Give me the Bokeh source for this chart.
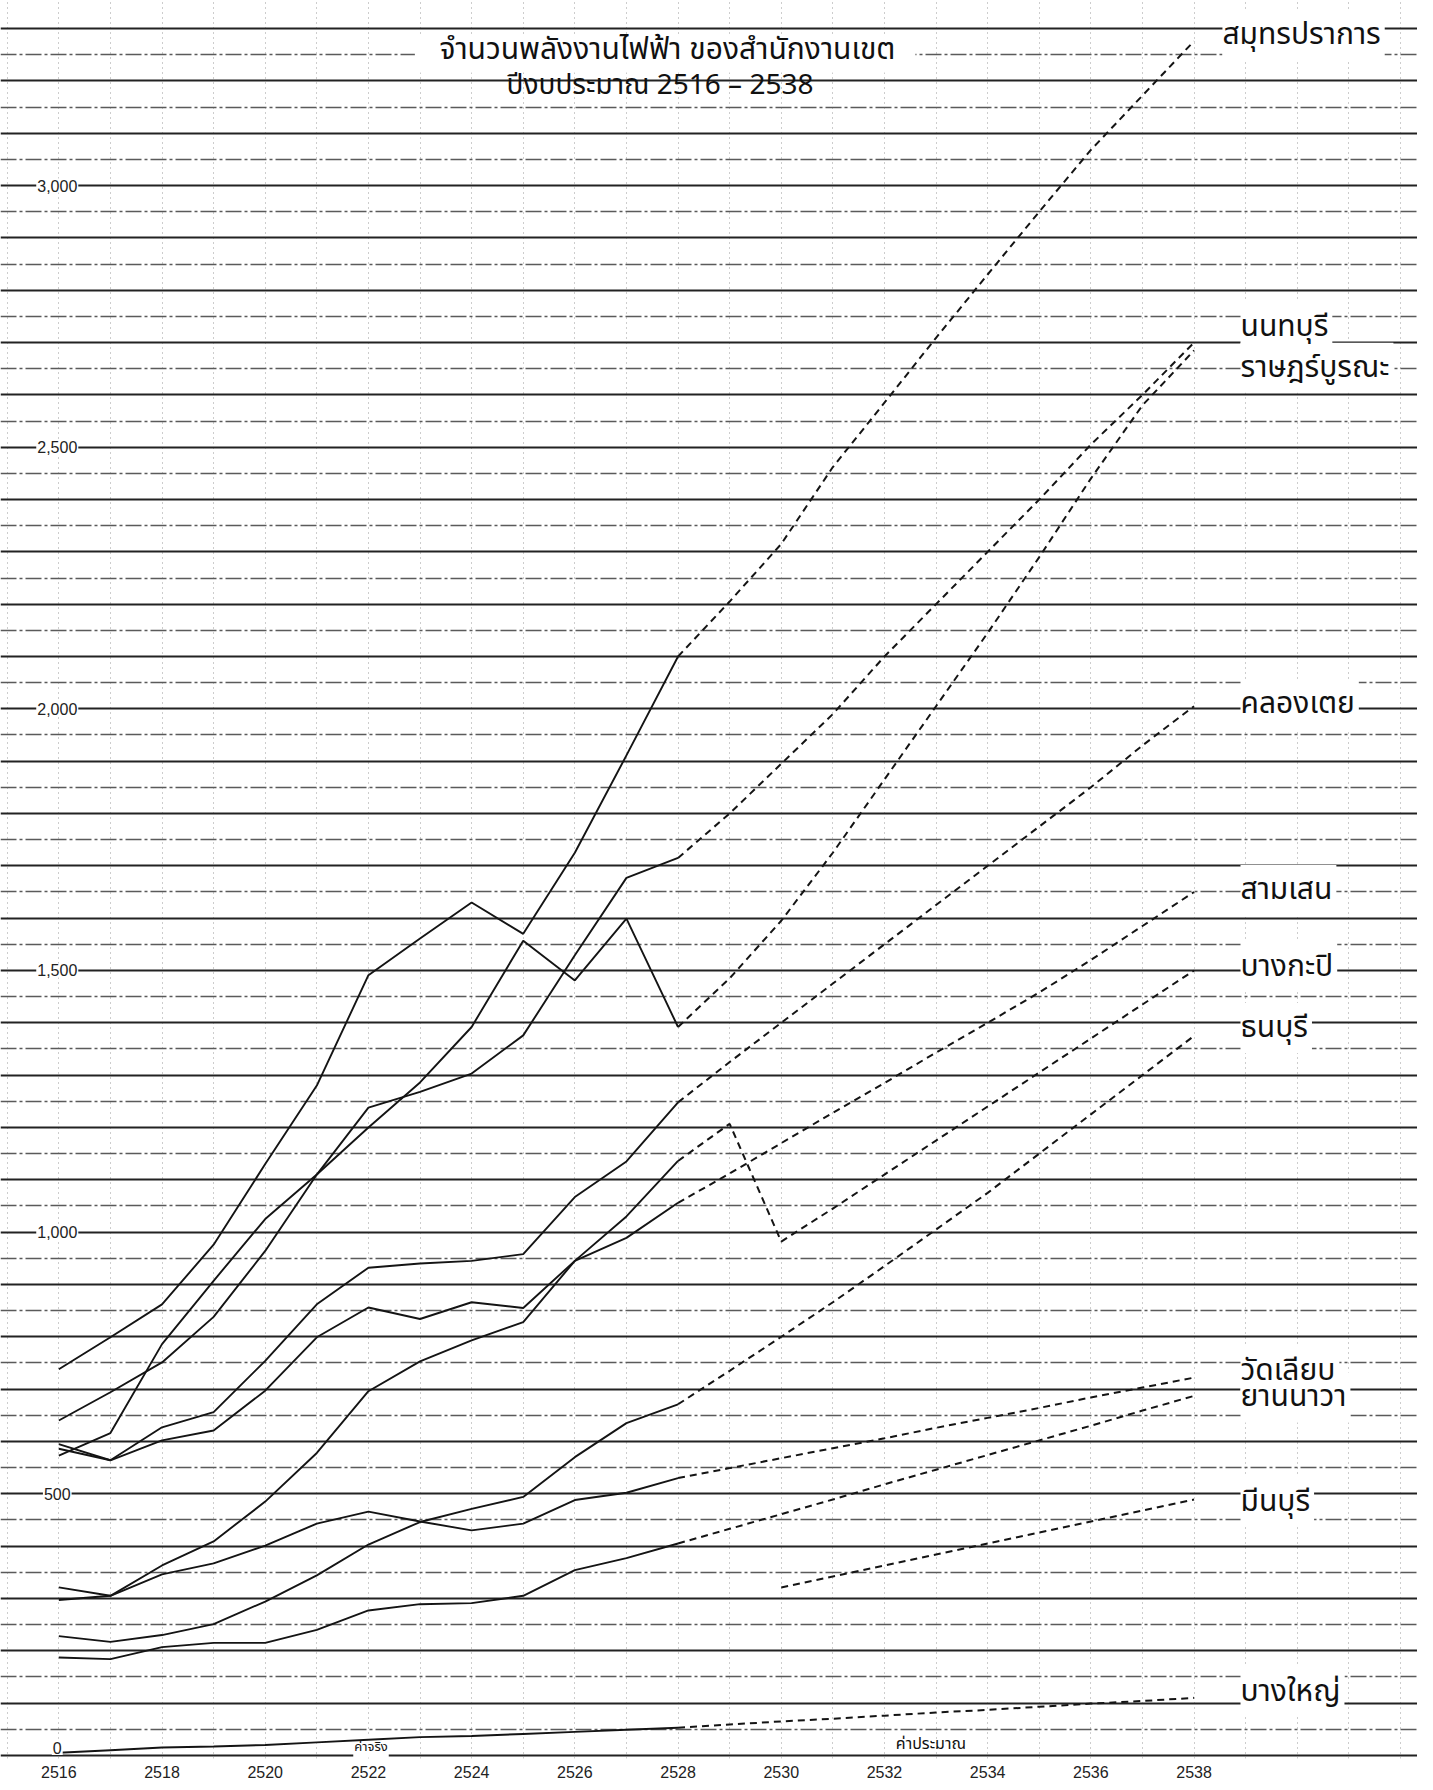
from bokeh.plotting import figure
from bokeh.models import Range1d, FixedTicker, Grid
from bokeh.core.properties import value
from bokeh.embed import file_html
from bokeh.resources import INLINE

# ---------------- data ----------------
years_actual = [2516, 2517, 2518, 2519, 2520, 2521, 2522, 2523, 2524, 2525, 2526, 2527, 2528]
years_proj = [2528, 2529, 2530, 2531, 2532, 2533, 2534, 2535, 2536, 2537, 2538]
years_proj_minburi = [2530, 2531, 2532, 2533, 2534, 2535, 2536, 2537, 2538]

samutprakan_actual = [738, 799, 862, 976, 1130, 1280, 1491, 1561, 1630, 1570, 1725, 1911, 2100]
samutprakan_proj = [2100, 2205, 2315, 2462, 2585, 2709, 2830, 2950, 3068, 3172, 3276]

nonthaburi_actual = [640, 694, 751, 838, 964, 1110, 1238, 1268, 1303, 1376, 1529, 1677, 1715]
nonthaburi_proj = [1715, 1800, 1895, 1990, 2100, 2200, 2300, 2400, 2505, 2600, 2700]

ratburana_actual = [573, 616, 786, 907, 1025, 1110, 1200, 1286, 1392, 1557, 1481, 1599, 1392]
ratburana_proj = [1392, 1485, 1595, 1725, 1865, 2005, 2145, 2290, 2440, 2580, 2685]

khlongtoei_actual = [595, 564, 627, 656, 754, 862, 932, 940, 945, 958, 1067, 1135, 1248]
khlongtoei_proj = [1248, 1325, 1400, 1475, 1550, 1625, 1700, 1775, 1850, 1930, 2005]

samsen_actual = [586, 564, 602, 621, 697, 799, 856, 834, 866, 855, 945, 989, 1056]
samsen_proj = [1056, 1112, 1170, 1228, 1285, 1343, 1400, 1458, 1520, 1585, 1650]

bangkapi_actual = [297, 305, 363, 409, 485, 578, 696, 753, 793, 828, 945, 1030, 1136]
bangkapi_proj = [1136, 1207, 982, 1045, 1110, 1175, 1240, 1305, 1370, 1435, 1500]

thonburi_actual = [228, 217, 230, 251, 294, 344, 403, 446, 471, 494, 570, 635, 671]
thonburi_proj = [671, 735, 800, 866, 935, 1005, 1075, 1150, 1225, 1300, 1375]

watliap_actual = [321, 305, 346, 367, 401, 443, 466, 447, 430, 443, 488, 502, 530]
watliap_proj = [530, 549, 568, 587, 606, 626, 645, 664, 684, 703, 722]

yannawa_actual = [187, 184, 207, 215, 215, 240, 277, 289, 291, 305, 354, 377, 405]
yannawa_proj = [405, 433, 461, 489, 518, 546, 574, 602, 630, 659, 687]

minburi_proj = [321, 342, 363, 384, 405, 426, 447, 468, 489]

bangyai_actual = [5, 10, 15, 17, 20, 25, 30, 35, 37, 41, 45, 49, 53]
bangyai_proj = [53, 59, 65, 70, 76, 82, 87, 93, 99, 104, 110]

series_names = ["สมุทรปราการ", "นนทบุรี", "ราษฎร์บูรณะ", "คลองเตย", "สามเสน", "บางกะปิ",
                "ธนบุรี", "วัดเลียบ", "ยานนาวา", "มีนบุรี", "บางใหญ่"]

x_tick_years = [2516, 2518, 2520, 2522, 2524, 2526, 2528, 2530, 2532, 2534, 2536, 2538]
y_tick_values = [0, 500, 1000, 1500, 2000, 2500, 3000]
y_tick_labels = ["0", "500", "1,000", "1,500", "2,000", "2,500", "3,000"]

title_line1 = "จำนวนพลังงานไฟฟ้า  ของสำนักงานเขต"
title_line2 = "ปีงบประมาณ 2516 – 2538"
note_actual = "ค่าจริง"
note_estimate = "ค่าประมาณ"

# ---------------- placement (layout only) ----------------
label_x = [2538.55, 2538.9, 2538.9, 2538.9, 2538.9, 2538.9,
           2538.9, 2538.9, 2538.9, 2538.9, 2538.9]
label_y = [3287, 2730, 2652, 2009, 1654, 1507, 1390, 735, 684, 485, 122]
y_label_pos = [14, 500, 1000, 1500, 2000, 2500, 3000]

# ---------------- figure ----------------
THAI = value("Noto Sans Thai")
INK = "#141414"
p = figure(frame_width=1417, frame_height=1758, output_backend="svg", toolbar_location=None,
           x_range=Range1d(2514.87, 2542.33), y_range=Range1d(-5.9, 3353.6),
           y_axis_location=None, min_border_left=0, min_border_right=0,
           min_border_top=0, min_border_bottom=0)
p.outline_line_color = None
p.background_fill_color = "white"
p.border_fill_color = "white"
p.grid.visible = False

# grid lines: solid every 100, broken every 50 in between, dotted each year
hundred_lines = list(range(0, 3301, 100))
fifty_lines = list(range(50, 3301, 100))
year_lines = list(range(2515, 2543))
p.add_layout(Grid(dimension=0, ticker=FixedTicker(ticks=year_lines),
                  grid_line_color="#9a9a9a", grid_line_width=1, grid_line_dash="1 4"))
p.add_layout(Grid(dimension=1, ticker=FixedTicker(ticks=fifty_lines),
                  grid_line_color="#5a5a5a", grid_line_width=1.5, grid_line_dash="16 3 3 3"))
p.add_layout(Grid(dimension=1, ticker=FixedTicker(ticks=hundred_lines),
                  grid_line_color="#222222", grid_line_width=2.2))

# x axis
p.xaxis.ticker = FixedTicker(ticks=x_tick_years)
p.xaxis.axis_line_color = None
p.xaxis.major_tick_line_color = None
p.xaxis.minor_tick_line_color = None
p.xaxis.major_label_standoff = 1
p.xaxis.major_label_text_font_size = "16px"
p.xaxis.major_label_text_font = "Liberation Sans"
p.xaxis.major_label_text_color = "#222222"

# notes: actual / estimated (drawn before the series so the lines stay on top)
p.text(x=[2522.05], y=[-4], text=[note_actual], text_align="center",
       text_baseline="bottom", text_font=THAI, text_font_size="13px",
       text_color="#111111", background_fill_color="white", padding=1)
p.text(x=[2532.9], y=[-1], text=[note_estimate], text_align="center",
       text_baseline="bottom", text_font=THAI, text_font_size="16px",
       text_color="#111111")

# series
actual_sets = [samutprakan_actual, nonthaburi_actual, ratburana_actual, khlongtoei_actual,
               samsen_actual, bangkapi_actual, thonburi_actual, watliap_actual,
               yannawa_actual, bangyai_actual]
proj_sets = [samutprakan_proj, nonthaburi_proj, ratburana_proj, khlongtoei_proj,
             samsen_proj, bangkapi_proj, thonburi_proj, watliap_proj,
             yannawa_proj, bangyai_proj]
for vals in actual_sets:
    p.line(years_actual, vals, line_color=INK, line_width=1.9)
for vals in proj_sets:
    p.line(years_proj, vals, line_color=INK, line_width=2.0, line_dash="7 5")
p.line(years_proj_minburi, minburi_proj, line_color=INK, line_width=2.0, line_dash="7 5")

# y value labels sitting on the grid lines
p.text(x=[2515.97] * len(y_tick_values), y=y_label_pos, text=y_tick_labels,
       text_align="center", text_baseline="middle", text_font=value("Liberation Sans"),
       text_font_size="16px", text_color="#222222",
       background_fill_color="white", padding=1)

# district labels at the right: white boxes first, then the text on top
p.text(x=label_x, y=label_y, text=series_names,
       text_align="left", text_baseline="middle", text_font=THAI,
       text_font_size="30px", text_alpha=0.0,
       background_fill_color="white", padding=2)
p.text(x=label_x, y=label_y, text=series_names,
       text_align="left", text_baseline="middle", text_font=THAI,
       text_font_size="30px", text_color="#111111")

# titles (white band behind the first line hides the broken grid line)
p.quad(left=[2522.9], right=[2532.6], bottom=[3216], top=[3288],
       fill_color="white", line_color=None)
p.text(x=[2527.87], y=[3259], text=[title_line1], text_align="center",
       text_baseline="middle", text_font=THAI, text_font_size="30px",
       text_color="#111111")
p.text(x=[2527.65], y=[3191], text=[title_line2], text_align="center",
       text_baseline="middle", text_font=THAI, text_font_size="28px",
       text_color="#111111")

open("out.html", "w").write(file_html(p, INLINE))
